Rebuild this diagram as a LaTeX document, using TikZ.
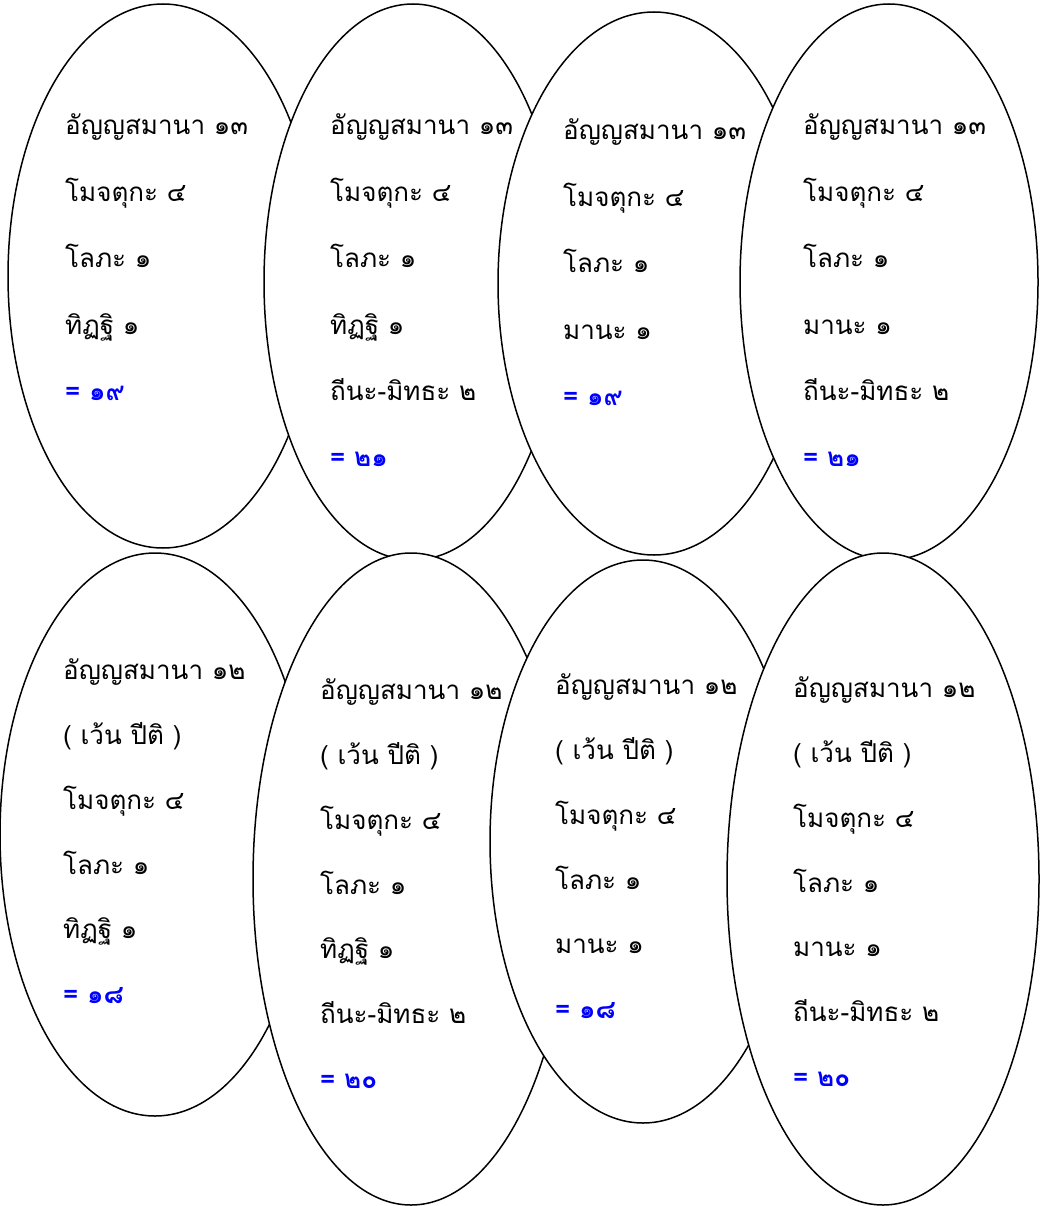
\documentclass[tikz,border=0pt]{standalone}
\usepackage{fontspec}
\newfontfamily\thaifont[Script=Thai]{Loma}
\usepackage{xcolor}
\usepackage{tikz}
\usetikzlibrary{shapes.geometric}
\definecolor{sumcolor}{HTML}{0000FF}
\newcommand{\sumval}[1]{\textcolor{sumcolor}{\bfseries #1}}

\begin{document}
\begin{tikzpicture}[
  x=1pt,y=-1pt,
  oval/.style={ellipse,draw,fill=white,line width=1.5pt,inner sep=0pt,outer sep=0pt},
  lines/.style={anchor=north west,inner sep=0pt,align=left,font=\thaifont\fontsize{26}{66.4}\selectfont},
  lowlines/.style={lines,font=\thaifont\fontsize{26}{64.7}\selectfont}
]
\useasboundingbox (0,0) rectangle (1041,1206);

% top row
\node[oval,minimum width=310,minimum height=544] (e1) at (163,276) {};
\node[oval,minimum width=298,minimum height=556] (e2) at (413,282) {};
\node[oval,minimum width=312,minimum height=543] (e3) at (654,283.5) {};
\node[oval,minimum width=298,minimum height=556] (e4) at (889,282) {};

% bottom row
\node[oval,minimum width=310,minimum height=563] (f1) at (155,834.5) {};
\node[oval,minimum width=316,minimum height=652] (f2) at (411,879) {};
\node[oval,minimum width=306,minimum height=563] (f3) at (643,841.5) {};
\node[oval,minimum width=312,minimum height=652] (f4) at (883,879) {};

\node[lines] (t1) at (65,114) {อัญญสมานา ๑๓\\โมจตุกะ ๔\\โลภะ ๑\\ทิฏฐิ ๑\\\sumval{= ๑๙}};
\node[lines] (t2) at (330,114) {อัญญสมานา ๑๓\\โมจตุกะ ๔\\โลภะ ๑\\ทิฏฐิ ๑\\ถีนะ-มิทธะ ๒\\\sumval{= ๒๑}};
\node[lines] (t3) at (563,119) {อัญญสมานา ๑๓\\โมจตุกะ ๔\\โลภะ ๑\\มานะ ๑\\\sumval{= ๑๙}};
\node[lines] (t4) at (803,114) {อัญญสมานา ๑๓\\โมจตุกะ ๔\\โลภะ ๑\\มานะ ๑\\ถีนะ-มิทธะ ๒\\\sumval{= ๒๑}};

\node[lowlines] (b1) at (63,659) {อัญญสมานา ๑๒\\( เว้น ปีติ )\\โมจตุกะ ๔\\โลภะ ๑\\ทิฏฐิ ๑\\\sumval{= ๑๘}};
\node[lowlines] (b2) at (320,679) {อัญญสมานา ๑๒\\( เว้น ปีติ )\\โมจตุกะ ๔\\โลภะ ๑\\ทิฏฐิ ๑\\ถีนะ-มิทธะ ๒\\\sumval{= ๒๐}};
\node[lowlines] (b3) at (555,674) {อัญญสมานา ๑๒\\( เว้น ปีติ )\\โมจตุกะ ๔\\โลภะ ๑\\มานะ ๑\\\sumval{= ๑๘}};
\node[lowlines] (b4) at (793,677) {อัญญสมานา ๑๒\\( เว้น ปีติ )\\โมจตุกะ ๔\\โลภะ ๑\\มานะ ๑\\ถีนะ-มิทธะ ๒\\\sumval{= ๒๐}};
\end{tikzpicture}
\end{document}
